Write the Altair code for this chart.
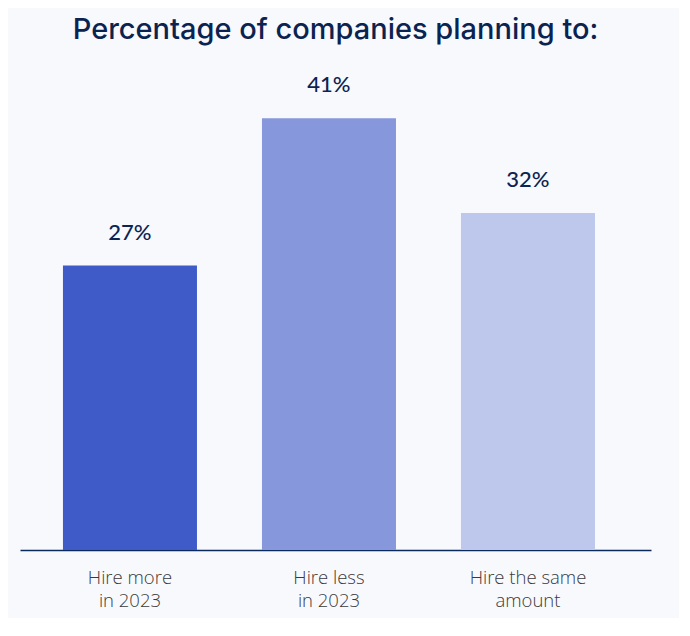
import altair as alt
import pandas as pd

categories = ["Hire more\nin 2023", "Hire less\nin 2023", "Hire the same\namount"]
values = [27, 41, 32]
labels = ["27%", "41%", "32%"]
colors = ["#3F5BC8", "#8697DB", "#BEC8ED"]

df = pd.DataFrame({"cat": categories, "value": values, "label": labels, "color": colors})

x = alt.X("cat:N", sort=None, title=None,
          scale=alt.Scale(paddingInner=0.3266, paddingOuter=0.2487, align=0.434),
          axis=alt.Axis(labelExpr="split(datum.label, '\\n')", labelAngle=0, ticks=False,
                        domainColor="#0B2A5C", domainWidth=1.5, labelPadding=18,
                        labelFont="Open Sans", labelFontSize=18.5, labelFontWeight=300,
                        labelColor="#3A3A3A", labelLineHeight=23))
y = alt.Y("value:Q", scale=alt.Scale(domain=[0, 45]), axis=None)

bars = alt.Chart(df).mark_bar().encode(x=x, y=y, color=alt.Color("color:N", scale=None))
text = alt.Chart(df).mark_text(dy=-33, baseline="middle", font="Lato", fontSize=22,
                               fontWeight=500, color="#0C2451").encode(x=x, y=y, text="label:N")

chart = (bars + text).properties(
    width=631, height=474,
    padding={"left": 12, "top": 8, "right": 28, "bottom": 8},
    background="#F8F9FD",
    title=alt.TitleParams("Percentage of companies planning to:", font="Inter", fontSize=29,
                          fontWeight=500, color="#0B2350", anchor="middle", offset=29),
).configure_view(stroke=None).configure_axis(grid=False)

chart.save("out.html", embed_options={"renderer": "svg", "actions": False})
